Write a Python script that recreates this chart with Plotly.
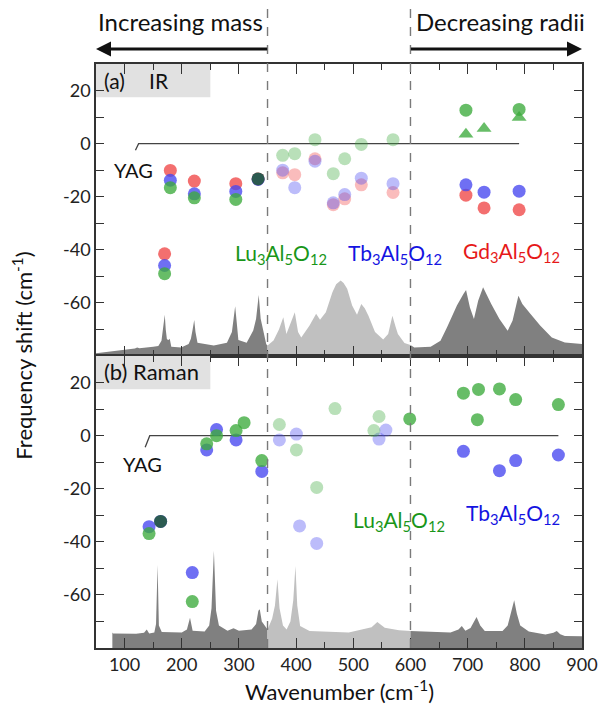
import plotly.graph_objects as go
from plotly.subplots import make_subplots

# ---------------- data ----------------
# IR spectrum (panel a), arbitrary units drawn on the shift axis
ir_x = [50, 100, 118, 122, 126, 150, 159, 164.5, 167.5, 170.3, 172, 174, 177, 179, 181.7, 199, 212, 216, 219, 221.8,
        224, 227.5, 256, 279, 287.7, 291, 293.4, 296, 299, 313.5, 325, 330, 334.6, 338, 342, 347.8, 350,
        360.5, 370, 377.6, 383, 389, 397.7, 403.4, 409, 423.5, 435, 441.8, 452, 463.5, 470, 477.9, 483, 489.3,
        498, 506.5, 514, 520, 526.5, 538, 552.3, 561, 568.4, 574, 578, 589.5, 600,
        606.7, 635.3, 652.5, 664, 681.2, 692.6, 697.2, 704, 711, 718.4, 727, 741.3, 755.6, 770, 778.5, 788.8,
        795.7, 810, 827.2, 847.2, 870, 900]
ir_y = [-79, -77.8, -77.2, -76.8, -77.1, -76.5, -76.2, -74.3, -70, -64.5, -70, -73.7, -74, -73.5, -76.5, -76.8, -75.5, -73.5, -70, -66.4,
        -71, -75, -76, -75, -71, -66, -61.3, -67, -74, -75, -70.4, -66, -57, -66, -70.4, -75.6, -76,
        -74.2, -70, -65.4, -71.7, -68.3, -63.5, -71, -73, -68.5, -64.1, -66.3, -63.5, -56, -53, -51.6, -52.5, -54.7,
        -61, -64.5, -60.4, -62, -64.8, -71, -73.8, -71.7, -64.8, -69, -71.7, -75.1, -75.9,
        -76.8, -76.5, -74.3, -69.2, -61, -56.6, -55.1, -61.7, -66.1, -59.2, -54.1, -60.4, -66.1, -70.5, -66.7, -57.3,
        -60.4, -64.2, -68.6, -73, -74.9, -75.5]

# Raman spectrum (panel b)
raman_x = [78.6, 80, 120, 134, 138.8, 143, 152, 155, 157.7, 160, 165, 200, 209, 214.4, 219, 240, 248, 252, 256.2, 260,
           265, 280, 290.5, 300, 322, 330, 334, 336.4, 340, 349, 350, 358, 363, 367.3, 371, 377, 383.4, 390, 395, 398.8,
           402, 407, 423.5, 492, 532, 542, 555, 580, 600, 670, 684, 689.8, 696, 705, 715.6, 722, 730, 761, 770,
           776, 781.4, 786, 792, 807, 836, 850, 855.9, 862, 870, 900]
raman_y = [-74.2, -74.5, -74.6, -74.3, -73, -74.5, -74.2, -71, -48.7, -71.5, -74, -74.2, -73, -68.6, -73.5, -73.8, -71.5, -65, -43.4, -66,
           -71.5, -73.5, -72.6, -73.5, -73, -71, -66, -65.4, -70, -73, -73, -69, -64, -54.1, -65, -71.5, -73, -70, -62, -49.1,
           -64, -71.7, -73.6, -74.2, -72.2, -70.2, -72.4, -73.3, -73.6, -74.2, -73, -71.7, -73.5, -72.5, -68.3, -71.5, -73.6, -73.6, -71.5,
           -67, -62, -67, -71.5, -73.8, -74.9, -74.3, -73.6, -74.8, -75.5, -75.6]

# IR frequency shifts (panel a)
ir_gd_x = [180, 170, 222, 294.5, 333.5, 376.5, 397.6, 433, 465, 485, 514, 569.5, 697, 728.7, 790]
ir_gd_y = [-10.1, -41.5, -14.1, -15.1, -13.3, -11, -11.7, -5.7, -23, -20.8, -15.5, -18.4, -19.4, -24.2, -24.9]
ir_tb_x = [180, 170, 222, 294.5, 333.5, 376.5, 397.6, 433, 465, 485, 514, 569.5, 697, 728.7, 790]
ir_tb_y = [-13.8, -45.9, -18.9, -18, -13.5, -10, -16.6, -6.6, -22.3, -19.2, -13, -15.1, -15.5, -18.3, -17.9]
ir_lu_x = [180, 170, 222, 294.5, 333.5, 376.5, 397.6, 433, 465, 485, 514, 569.5, 697, 790]
ir_lu_y = [-16.6, -49, -20.4, -21, -13.3, -4.4, -3.8, 1.5, -11.3, -5.7, -0.3, 1.5, 12.6, 12.9]
ir_lu_tri_x = [697, 728.7, 790]
ir_lu_tri_y = [3.5, 5.7, 9.8]

# Raman frequency shifts (panel b)
ra_tb_x = [142.8, 163, 218.4, 243.6, 260.8, 295, 340, 370.7, 400.5, 406, 436, 545, 557, 692.6, 755.6, 784, 858.7]
ra_tb_y = [-34.3, -32.3, -51.6, -5.4, 2.3, -1.6, -13.5, -1.6, 0.6, -34, -40.6, -1.3, 2.1, -5.9, -13.2, -9.4, -7.3]
ra_lu_x = [142.8, 163, 218.4, 243.6, 260.8, 295, 309, 340, 370.7, 400.5, 436, 468, 536, 545, 598.7,
           692.6, 717, 719, 755.6, 784, 858.7]
ra_lu_y = [-36.9, -32.3, -62.5, -3.1, 0, 1.9, 4.9, -9.4, 4.2, -5.4, -19.5, 10.2, 1.9, 7.2, 6.3,
           16, 6, 17.4, 17.6, 13.6, 11.7]

# YAG reference lines (with leader to label)
yag_a_x = [119, 124.5, 790]
yag_a_y = [-2.5, 0, 0]
yag_b_x = [136, 144, 858.7]
yag_b_y = [-4.4, 0, 0]

region_edges = [350, 600]
x_ticks = [100, 200, 300, 400, 500, 600, 700, 800, 900]
y_tickvals = [-70, -60, -50, -40, -30, -20, -10, 0, 10, 20, 30]
y_ticktext = ["", "-60", "", "-40", "", "-20", "", "0", "", "20", ""]

# ---------------- styles ----------------
FONT = "Lato"
GREEN = "60,170,60"
BLUE = "70,70,240"
RED = "240,70,70"
DARK_FILL = "rgb(128,128,128)"
LIGHT_FILL = "rgb(192,192,192)"
XMIN, XMAX = 50, 900
YMIN, YMAX = -80, 30
W, H = 610, 715
ML, MR, MT, MB = 96, 18, 64, 67
PX_PER_X = (W - ML - MR) / (XMAX - XMIN)


def point_colors(xs, ys, rgb, overlap_with=None, hi=0.78, lo=0.36):
    cols = []
    for x, y in zip(xs, ys):
        dark = False
        if overlap_with is not None:
            for ox, oy in zip(*overlap_with):
                if abs(ox - x) < 1 and abs(oy - y) < 1.2:
                    dark = True
        if dark:
            cols.append("rgba(40,90,72,0.95)")
        elif region_edges[0] + 2 < x < region_edges[1] - 4:
            cols.append(f"rgba({rgb},{lo})")
        else:
            cols.append(f"rgba({rgb},{hi})")
    return cols


fig = make_subplots(rows=2, cols=1, shared_xaxes=True, vertical_spacing=0)


def add_spectrum(xs, ys, row):
    bounds = [(min(xs), region_edges[0], DARK_FILL), (region_edges[0], region_edges[1], LIGHT_FILL),
              (region_edges[1], max(xs), DARK_FILL)]
    for a, b, col in bounds:
        sx = [x for x in xs if a <= x <= b]
        sy = [y for x, y in zip(xs, ys) if a <= x <= b]
        fig.add_trace(go.Scatter(x=sx + [sx[-1], sx[0]], y=sy + [YMIN, YMIN], fill="toself", fillcolor=col,
                                 mode="lines", line=dict(width=0), hoverinfo="skip", showlegend=False),
                      row=row, col=1)


add_spectrum(ir_x, ir_y, 1)
add_spectrum(raman_x, raman_y, 2)

# YAG lines
fig.add_trace(go.Scatter(x=yag_a_x, y=yag_a_y, mode="lines", line=dict(color="#444", width=1.3),
                         showlegend=False), row=1, col=1)
fig.add_trace(go.Scatter(x=yag_b_x, y=yag_b_y, mode="lines", line=dict(color="#444", width=1.3),
                         showlegend=False), row=2, col=1)

MS = 13
# panel a points
fig.add_trace(go.Scatter(x=ir_gd_x, y=ir_gd_y, mode="markers",
                         marker=dict(size=MS, color=point_colors(ir_gd_x, ir_gd_y, RED), line=dict(width=0)),
                         showlegend=False), row=1, col=1)
fig.add_trace(go.Scatter(x=ir_tb_x, y=ir_tb_y, mode="markers",
                         marker=dict(size=MS, color=point_colors(ir_tb_x, ir_tb_y, BLUE), line=dict(width=0)),
                         showlegend=False), row=1, col=1)
fig.add_trace(go.Scatter(x=ir_lu_x, y=ir_lu_y, mode="markers",
                         marker=dict(size=MS, color=point_colors(ir_lu_x, ir_lu_y, GREEN, (ir_gd_x, ir_gd_y)),
                                     line=dict(width=0)),
                         showlegend=False), row=1, col=1)
fig.add_trace(go.Scatter(x=ir_lu_tri_x, y=ir_lu_tri_y, mode="markers",
                         marker=dict(size=MS, symbol="triangle-up", color=point_colors(ir_lu_tri_x, ir_lu_tri_y, GREEN),
                                     line=dict(width=0)),
                         showlegend=False), row=1, col=1)
# panel b points
fig.add_trace(go.Scatter(x=ra_tb_x, y=ra_tb_y, mode="markers",
                         marker=dict(size=MS, color=point_colors(ra_tb_x, ra_tb_y, BLUE), line=dict(width=0)),
                         showlegend=False), row=2, col=1)
fig.add_trace(go.Scatter(x=ra_lu_x, y=ra_lu_y, mode="markers",
                         marker=dict(size=MS, color=point_colors(ra_lu_x, ra_lu_y, GREEN, (ra_tb_x, ra_tb_y)),
                                     line=dict(width=0)),
                         showlegend=False), row=2, col=1)

# ---------------- axes ----------------
axis_common = dict(showline=True, linecolor="#333", linewidth=1.5, mirror="allticks", ticks="inside",
                   showgrid=False, zeroline=False, tickcolor="#333", tickwidth=1.3,
                   tickfont=dict(family=FONT, size=18, color="#222"))
for r in (1, 2):
    fig.update_xaxes(range=[XMIN, XMAX], tickmode="array", tickvals=x_ticks, ticklen=10,
                     minor=dict(dtick=50, tick0=0, ticklen=6, ticks="inside", tickcolor="#333", tickwidth=1.3),
                     showticklabels=(r == 2), **axis_common, row=r, col=1)
    fig.update_yaxes(range=[YMIN, YMAX], tickmode="array", tickvals=y_tickvals, ticktext=y_ticktext,
                     ticklen=8, **axis_common, row=r, col=1)

# ---------------- shapes ----------------
shapes = []
for xe in region_edges:
    shapes.append(dict(type="line", xref="x", yref="paper", x0=xe, x1=xe, y0=0, y1=1.103,
                       line=dict(color="#7a7a7a", width=1.4, dash="dash")))
shapes.append(dict(type="rect", xref="x", yref="y", x0=50, x1=250, y0=17.5, y1=YMAX, fillcolor="#e1e1e1",
                   line=dict(width=0), layer="below"))
shapes.append(dict(type="rect", xref="x2", yref="y2", x0=50, x1=250, y0=17.5, y1=YMAX, fillcolor="#e1e1e1",
                   line=dict(width=0), layer="below"))
fig.update_layout(shapes=shapes)

# ---------------- annotations ----------------
def txt(text, x, y, xref, yref, color="#111", size=20, xanchor="center", **kw):
    return dict(text=text, x=x, y=y, xref=xref, yref=yref, showarrow=False, xanchor=xanchor, yanchor="middle",
                font=dict(family=FONT, size=size, color=color), **kw)

LU = "Lu<sub>3</sub>Al<sub>5</sub>O<sub>12</sub>"
TB = "Tb<sub>3</sub>Al<sub>5</sub>O<sub>12</sub>"
GD = "Gd<sub>3</sub>Al<sub>5</sub>O<sub>12</sub>"
arrow_len = (region_edges[0] - XMIN) * PX_PER_X
ARROW_Y = 1.0257
anns = [
    txt("Increasing mass", 0.174, 1.072, "paper", "paper", size=24),
    txt("Decreasing radii", 0.832, 1.072, "paper", "paper", size=24),
    dict(x=0, y=ARROW_Y, xref="paper", yref="paper", ax=arrow_len, ay=0, axref="pixel", ayref="pixel",
         showarrow=True, arrowhead=2, arrowsize=1, arrowwidth=3, arrowcolor="#111", text=" "),
    dict(x=1, y=ARROW_Y, xref="paper", yref="paper", ax=-arrow_len, ay=0, axref="pixel", ayref="pixel",
         showarrow=True, arrowhead=2, arrowsize=1, arrowwidth=3, arrowcolor="#111", text=" "),
    txt("(a)", 59.8, 23.7, "x", "y", size=21, xanchor="left"),
    txt("IR", 139.3, 23.7, "x", "y", size=21, xanchor="left"),
    txt("(b) Raman", 59.8, 24.0, "x2", "y2", size=22, xanchor="left"),
    txt("YAG", 115, -10, "x", "y", size=20),
    txt("YAG", 131, -10.7, "x2", "y2", size=20),
    txt(LU, 374, -41.5, "x", "y", color="rgb(25,150,25)", size=21),
    txt(TB, 573, -41.5, "x", "y", color="rgb(20,20,225)", size=21),
    txt(GD, 776, -41.0, "x", "y", color="rgb(230,25,25)", size=21),
    txt(LU, 580, -32, "x2", "y2", color="rgb(25,150,25)", size=21),
    txt(TB, 780, -29.5, "x2", "y2", color="rgb(20,20,225)", size=21),
    txt("Frequency shift (cm<sup>-1</sup>)", -0.153, 0.5, "paper", "paper", size=22, textangle=-90),
    txt("Wavenumber (cm<sup>-1</sup>)", 0.5, -0.073, "paper", "paper", size=22),
]
fig.update_layout(annotations=anns)

fig.update_layout(width=W, height=H, margin=dict(l=ML, r=MR, t=MT, b=MB),
                  paper_bgcolor="white", plot_bgcolor="white", showlegend=False,
                  font=dict(family=FONT, size=18, color="#222"))

fig.write_html("out.html", config={"displayModeBar": False},
               post_script="document.body.style.margin='0px';")
